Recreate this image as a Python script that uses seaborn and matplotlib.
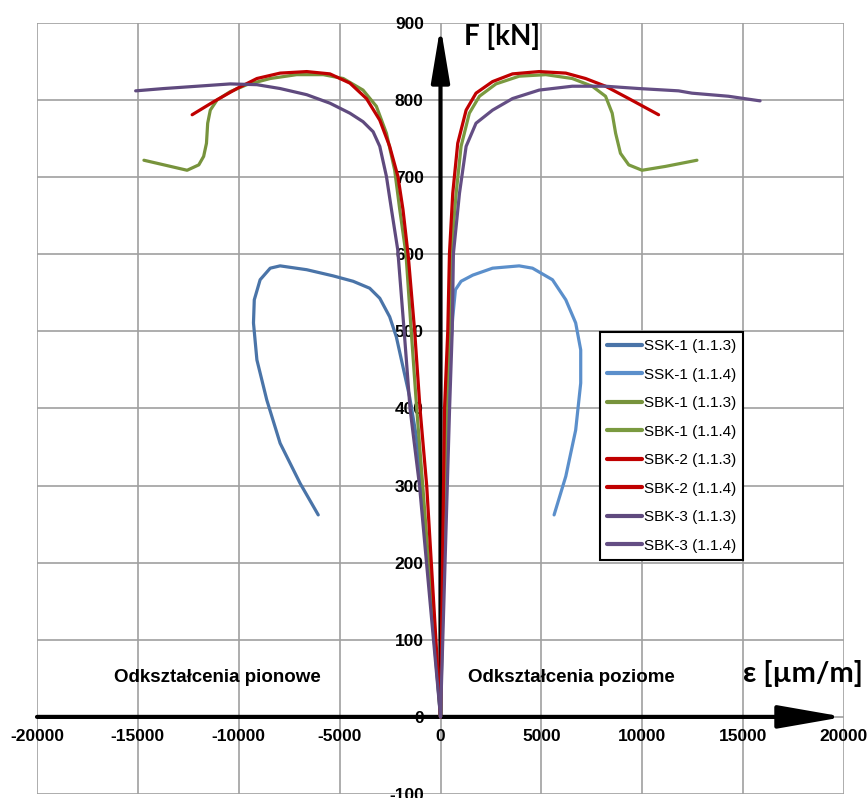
import numpy as np
import pandas as pd
import matplotlib
matplotlib.use('Agg')
import matplotlib.pyplot as plt
import seaborn as sns

# strain [um/m] vs force [kN]
ssk1_113_x = [0, -950, -1200, -1530, -1860, -2190, -2520, -3010, -3510, -4330, -5320, -6630, -7950, -8440, -8940, -9230, -9270, -9100, -8610, -7950, -6960, -6060]
ssk1_113_y = [0, 303, 364, 415, 454, 493, 519, 543, 556, 565, 572, 580, 585, 582, 567, 541, 511, 463, 411, 355, 303, 262]
ssk1_114_x = [0, 250, 400, 494, 610, 740, 1020, 1600, 2580, 3900, 4560, 5550, 6210, 6700, 6950, 6950, 6700, 6210, 5630]
ssk1_114_y = [0, 300, 400, 476, 519, 554, 565, 573, 582, 585, 582, 567, 541, 511, 476, 433, 372, 312, 262]
sbk1_113_x = [0, -880, -1180, -1450, -1710, -2020, -2270, -2680, -3180, -3840, -4820, -5810, -7130, -8440, -9600, -10420, -11080, -11410, -11540, -11600, -11740, -11980, -12560, -13710, -14700]
sbk1_113_y = [0, 300, 400, 500, 600, 658, 709, 757, 792, 813, 828, 833, 833, 828, 820, 811, 800, 787, 770, 744, 727, 716, 709, 716, 722]
sbk1_114_x = [0, 300, 450, 528, 775, 1020, 1430, 1930, 2750, 3900, 5220, 6530, 7520, 8180, 8510, 8680, 8920, 9330, 9990, 11150, 12710]
sbk1_114_y = [0, 400, 500, 601, 679, 740, 783, 805, 821, 831, 833, 828, 818, 805, 783, 757, 731, 716, 709, 714, 722]
sbk2_113_x = [0, -684, -1016, -1280, -1595, -1860, -2110, -2520, -3010, -3670, -4490, -5480, -6630, -7950, -9100, -10090, -11240, -12310]
sbk2_113_y = [0, 300, 400, 500, 597, 658, 701, 740, 774, 802, 822, 834, 837, 835, 828, 815, 798, 781]
sbk2_114_x = [0, 200, 360, 444, 607, 854, 1270, 1760, 2580, 3570, 4890, 6210, 7190, 8180, 9330, 10810]
sbk2_114_y = [0, 400, 500, 601, 679, 744, 787, 809, 824, 834, 837, 835, 828, 818, 802, 781]
sbk3_113_x = [0, -1040, -1510, -1800, -2120, -2430, -2680, -3010, -3340, -3840, -4490, -5480, -6630, -7950, -9100, -10420, -12060, -13710, -15110]
sbk3_113_y = [0, 300, 400, 500, 606, 658, 701, 740, 759, 772, 783, 796, 807, 815, 820, 821, 818, 815, 812]
sbk3_114_x = [0, 450, 580, 640, 940, 1270, 1760, 2580, 3570, 4890, 6530, 8180, 9830, 11800, 12460, 14270, 15840]
sbk3_114_y = [0, 400, 500, 601, 679, 740, 770, 787, 802, 813, 818, 818, 815, 812, 809, 805, 799]

names = ['SSK-1 (1.1.3)', 'SSK-1 (1.1.4)', 'SBK-1 (1.1.3)', 'SBK-1 (1.1.4)',
         'SBK-2 (1.1.3)', 'SBK-2 (1.1.4)', 'SBK-3 (1.1.3)', 'SBK-3 (1.1.4)']
colors = ['#4A74A8', '#5B8FCB', '#77933C', '#7A9A40', '#C00000', '#C00000', '#5F4A7E', '#644E84']
xs = [ssk1_113_x, ssk1_114_x, sbk1_113_x, sbk1_114_x, sbk2_113_x, sbk2_114_x, sbk3_113_x, sbk3_114_x]
ys = [ssk1_113_y, ssk1_114_y, sbk1_113_y, sbk1_114_y, sbk2_113_y, sbk2_114_y, sbk3_113_y, sbk3_114_y]

frames = []
for n, x, y in zip(names, xs, ys):
    frames.append(pd.DataFrame({'eps': x, 'F': y, 'series': n}))
df = pd.concat(frames, ignore_index=True)

sns.set_style('white')
plt.rcParams['font.family'] = ['Liberation Sans', 'DejaVu Sans']
plt.rcParams['axes.unicode_minus'] = False
plt.rcParams['text.color'] = 'black'

fig = plt.figure(figsize=(8.68, 7.98), dpi=100)
ax = fig.add_axes([37/868, 4/798, 807/868, 771/798])

sns.lineplot(data=df, x='eps', y='F', hue='series', hue_order=names, palette=colors,
             sort=False, estimator=None, lw=2.3, ax=ax, zorder=3)
for ln in ax.get_lines():
    ln.set_solid_joinstyle('round')
    ln.set_solid_capstyle('round')

ax.set_xlim(-20000, 20000)
ax.set_ylim(-100, 900)
ax.set_xticks(np.arange(-20000, 20001, 5000))
ax.set_yticks(np.arange(-100, 901, 100))
ax.grid(True, color='#A0A0A0', lw=1.2)
ax.set_axisbelow(True)
for s in ['top', 'right']:
    ax.spines[s].set_visible(False)
ax.spines['left'].set_position(('data', 0))
ax.spines['bottom'].set_position(('data', 0))
ax.spines['left'].set_color('none')
ax.spines['bottom'].set_color('none')
ax.tick_params(length=0, labelsize=12.5, labelcolor='black')
ax.tick_params(axis='x', pad=9)
ax.tick_params(axis='y', pad=12)
for lab in ax.get_xticklabels() + ax.get_yticklabels():
    lab.set_fontweight('bold')
ax.set_xlabel('')
ax.set_ylabel('')

# axis arrows
ax.annotate('', xy=(20000, 0), xytext=(-20000, 0), annotation_clip=False,
            arrowprops=dict(arrowstyle='-|>,head_length=4.0,head_width=0.7', mutation_scale=10,
                            lw=3, color='black', shrinkA=0, shrinkB=0), zorder=2)
ax.annotate('', xy=(0, 896), xytext=(0, 0), annotation_clip=False,
            arrowprops=dict(arrowstyle='-|>,head_length=3.3,head_width=0.55', mutation_scale=10,
                            lw=3, color='black', shrinkA=0, shrinkB=0), zorder=2)

ax.text(3050, 882, 'F [kN]', fontsize=20, fontweight='bold', family=['Lato', 'DejaVu Sans'],
        ha='center', va='center')
ax.text(17970, 56, 'ε [µm/m]', fontsize=21, fontweight='bold', family=['Lato', 'DejaVu Sans'],
        ha='center', va='center')
ax.text(-11080, 51, 'Odkształcenia pionowe', fontsize=13.5, fontweight='bold', ha='center', va='center')
ax.text(6470, 51, 'Odkształcenia poziome', fontsize=13.5, fontweight='bold', ha='center', va='center')

leg = ax.legend(loc='upper left', bbox_to_anchor=(0.6976, 0.599), fontsize=11, frameon=True,
                fancybox=False, edgecolor='black', framealpha=1, labelspacing=0.95,
                handlelength=2.3, handletextpad=0.1, borderpad=0.45, borderaxespad=0, title=None)
leg.get_frame().set_linewidth(1.5)
for h in leg.get_lines():
    h.set_linewidth(3)

fig.savefig('out.png', dpi=100)
